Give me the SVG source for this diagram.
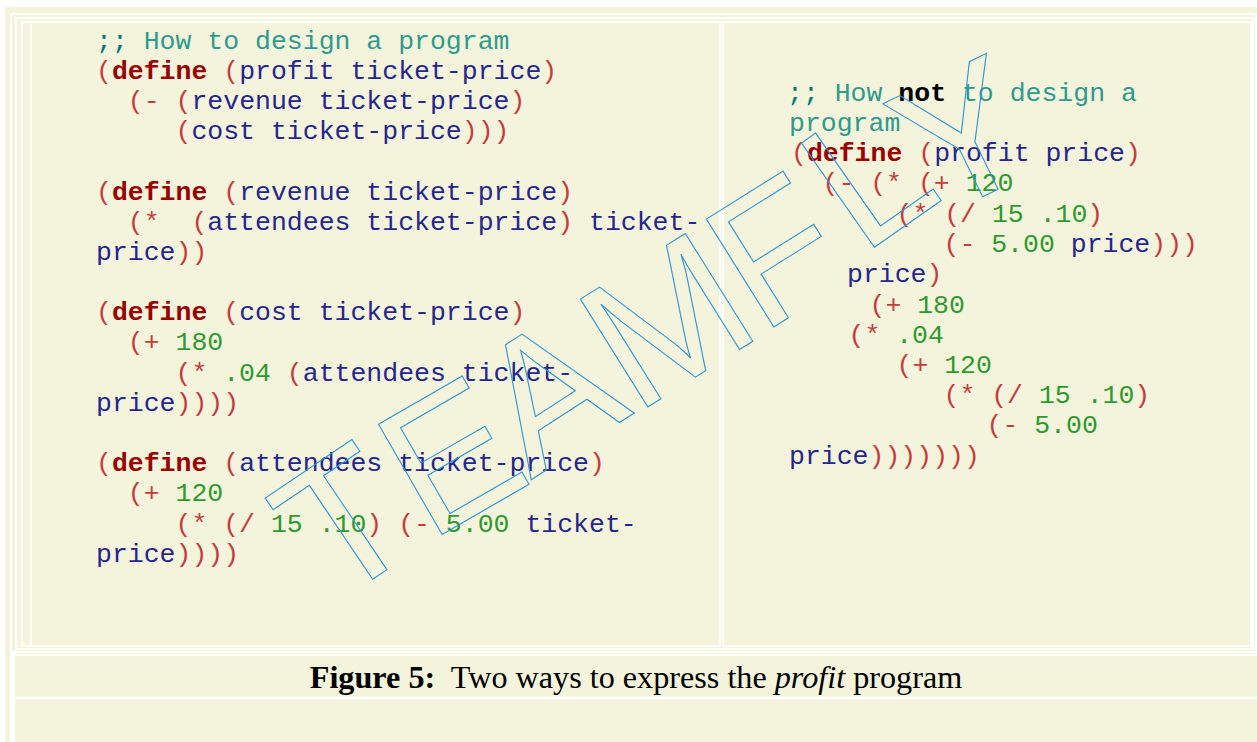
<svg xmlns="http://www.w3.org/2000/svg" width="1257" height="742" viewBox="0 0 1257 742">
<style>
.code{font-family:"Liberation Mono","Courier New",monospace;font-size:26.5px;white-space:pre}
.cd{fill:#007a78}
.c{fill:#2f9a8e}
.k{fill:#990000;font-weight:bold}
.p{fill:#c43c3c}
.i{fill:#26268e}
.n{fill:#2e9a2e}
.b{fill:#000;font-weight:bold}
.fr{fill:none;stroke:#fff;stroke-width:2}
.wm{font-family:"Liberation Sans",Arial,sans-serif;font-size:185px;fill:none;stroke:#2f97d6;stroke-width:1.1}
.cap{font-family:"Liberation Serif","Times New Roman",serif;font-size:32.2px;fill:#000;white-space:pre}
</style>
<rect width="1257" height="742" fill="#fff"/>
<g id="frame">
<rect x="5" y="7" width="1252" height="735" fill="#f4f4dc"/>
<rect x="11" y="14" width="1245" height="638" class="fr"/>
<rect x="16" y="18" width="1237" height="631" class="fr"/>
<rect x="22" y="22" width="698" height="624" class="fr"/>
<line x1="31" y1="23" x2="31" y2="645" stroke="#fff" stroke-width="2"/>
<rect x="723" y="22" width="528" height="624" class="fr"/>
<rect x="10" y="652" width="5" height="90" fill="#fff"/>
<line x1="15" y1="655" x2="1257" y2="655" stroke="#fff" stroke-width="2"/>
<line x1="15" y1="698" x2="1257" y2="698" stroke="#fff" stroke-width="2.5"/>
</g>
<g id="left-code" class="code">
<text xml:space="preserve" x="96" y="49"><tspan class="cd">;;</tspan><tspan class="c"> How to design a program</tspan></text>
<text xml:space="preserve" x="96" y="79"><tspan class="p">(</tspan><tspan class="k">define</tspan><tspan class="p"> (</tspan><tspan class="i">profit ticket-price</tspan><tspan class="p">)</tspan></text>
<text xml:space="preserve" x="127.8" y="109"><tspan class="p">(- (</tspan><tspan class="i">revenue ticket-price</tspan><tspan class="p">)</tspan></text>
<text xml:space="preserve" x="175.5" y="139"><tspan class="p">(</tspan><tspan class="i">cost ticket-price</tspan><tspan class="p">)))</tspan></text>
<text xml:space="preserve" x="96" y="200"><tspan class="p">(</tspan><tspan class="k">define</tspan><tspan class="p"> (</tspan><tspan class="i">revenue ticket-price</tspan><tspan class="p">)</tspan></text>
<text xml:space="preserve" x="127.8" y="230"><tspan class="p">(*  (</tspan><tspan class="i">attendees ticket-price</tspan><tspan class="p">)</tspan><tspan class="i"> ticket-</tspan></text>
<text xml:space="preserve" x="96" y="260"><tspan class="i">price</tspan><tspan class="p">))</tspan></text>
<text xml:space="preserve" x="96" y="320"><tspan class="p">(</tspan><tspan class="k">define</tspan><tspan class="p"> (</tspan><tspan class="i">cost ticket-price</tspan><tspan class="p">)</tspan></text>
<text xml:space="preserve" x="127.8" y="350"><tspan class="p">(+ </tspan><tspan class="n">180</tspan></text>
<text xml:space="preserve" x="175.5" y="381"><tspan class="p">(* </tspan><tspan class="n">.04</tspan><tspan class="p"> (</tspan><tspan class="i">attendees ticket-</tspan></text>
<text xml:space="preserve" x="96" y="411"><tspan class="i">price</tspan><tspan class="p">))))</tspan></text>
<text xml:space="preserve" x="96" y="471"><tspan class="p">(</tspan><tspan class="k">define</tspan><tspan class="p"> (</tspan><tspan class="i">attendees ticket-price</tspan><tspan class="p">)</tspan></text>
<text xml:space="preserve" x="127.8" y="501"><tspan class="p">(+ </tspan><tspan class="n">120</tspan></text>
<text xml:space="preserve" x="175.5" y="532"><tspan class="p">(* (/ </tspan><tspan class="n">15 .10</tspan><tspan class="p">) (- </tspan><tspan class="n">5.00</tspan><tspan class="i"> ticket-</tspan></text>
<text xml:space="preserve" x="96" y="562"><tspan class="i">price</tspan><tspan class="p">))))</tspan></text>
</g>
<g id="right-code" class="code">
<text xml:space="preserve" x="787" y="101"><tspan class="cd">;;</tspan><tspan class="c"> How </tspan><tspan class="b">not</tspan><tspan class="c"> to design a</tspan></text>
<text xml:space="preserve" x="789" y="131"><tspan class="c">program</tspan></text>
<text xml:space="preserve" x="791" y="161"><tspan class="p">(</tspan><tspan class="k">define</tspan><tspan class="p"> (</tspan><tspan class="i">profit price</tspan><tspan class="p">)</tspan></text>
<text xml:space="preserve" x="822.5" y="191"><tspan class="p">(- (* (+ </tspan><tspan class="n">120</tspan></text>
<text xml:space="preserve" x="896.5" y="221.5"><tspan class="p">(* (/ </tspan><tspan class="n">15 .10</tspan><tspan class="p">)</tspan></text>
<text xml:space="preserve" x="943.5" y="252"><tspan class="p">(- </tspan><tspan class="n">5.00</tspan><tspan class="i"> price</tspan><tspan class="p">)))</tspan></text>
<text xml:space="preserve" x="847" y="282"><tspan class="i">price</tspan><tspan class="p">)</tspan></text>
<text xml:space="preserve" x="869.5" y="312.5"><tspan class="p">(+ </tspan><tspan class="n">180</tspan></text>
<text xml:space="preserve" x="848.5" y="342.5"><tspan class="p">(* </tspan><tspan class="n">.04</tspan></text>
<text xml:space="preserve" x="896.5" y="373"><tspan class="p">(+ </tspan><tspan class="n">120</tspan></text>
<text xml:space="preserve" x="943.5" y="403"><tspan class="p">(* (/ </tspan><tspan class="n">15 .10</tspan><tspan class="p">)</tspan></text>
<text xml:space="preserve" x="986.5" y="433"><tspan class="p">(- </tspan><tspan class="n">5.00</tspan></text>
<text xml:space="preserve" x="789" y="463.5"><tspan class="i">price</tspan><tspan class="p">)))))))</tspan></text>
</g>
<g id="caption">
<text class="cap" x="636" y="688" text-anchor="middle" xml:space="preserve"><tspan font-weight="bold">Figure 5:</tspan>  Two ways to express the <tspan font-style="italic">profit</tspan> program</text>
</g>
<g id="watermark">
<text class="wm" x="333 429 531 635 761 862 935" y="606 542 480 415 335 256 220" rotate="-34 -30 -33 -32 -32 -35 -26">TEAMFLY</text>
</g>
<g id="connectors"/>
</svg>
